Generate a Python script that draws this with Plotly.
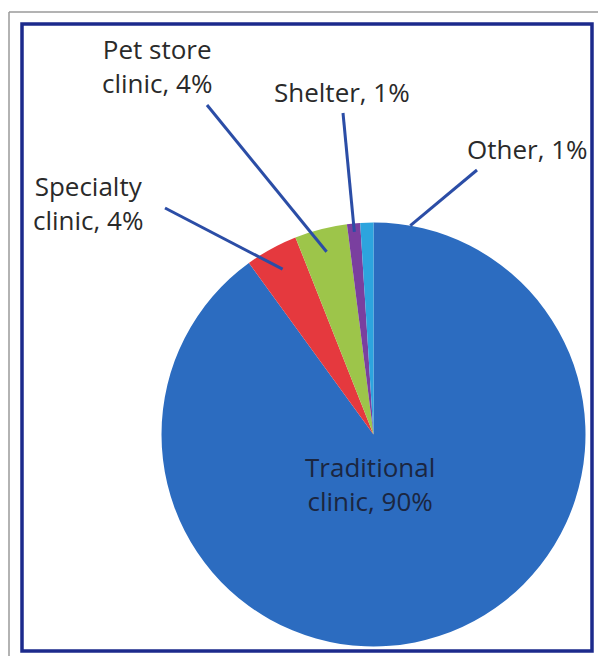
import math
import plotly.graph_objects as go

# Share of visits by clinic type (%)
categories = ["Traditional clinic", "Specialty clinic", "Pet store clinic", "Shelter", "Other"]
shares = [90, 4, 4, 1, 1]
label_lines = [
    "Traditional<br>clinic, 90%",
    "Specialty<br>clinic, 4%",
    "Pet store<br>clinic, 4%",
    "Shelter, 1%",
    "Other, 1%",
]

# --- styling / layout ---
W, H = 598, 656
colors = ["#2C6CC0", "#E5393E", "#9DC54A", "#7A3F9F", "#2DA4DE"]
CX, CY, R = 373.5, 434.5, 212.0          # pie centre and radius in page pixels
FONT = "Open Sans"
TEXT_COLOR = "#2A2A2A"
LEADER_COLOR = "#2B4DA6"


def px(x):
    return x / W


def py(y):
    return 1 - y / H


fig = go.Figure(
    go.Pie(
        labels=categories,
        values=shares,
        sort=False,
        direction="clockwise",
        rotation=0,
        marker=dict(colors=colors, line=dict(width=0)),
        textinfo="none",
        hoverinfo="label+percent",
        showlegend=False,
        domain=dict(x=[px(CX - R), px(CX + R)], y=[py(CY + R), py(CY - R)]),
    )
)

# mid angle of each slice, clockwise from 12 o'clock
total = sum(shares)
mids = []
acc = 0.0
for v in shares:
    mids.append(360.0 * (acc + v / 2) / total)
    acc += v


def on_pie(angle_deg, frac):
    a = math.radians(angle_deg)
    return CX + R * frac * math.sin(a), CY - R * frac * math.cos(a)


# label centre (px), leader start (px), leader end as (radius fraction, angle shift)
label_pos = {
    0: (370, 484),
    1: (88, 203),
    2: (157, 66),
    3: (342, 92),
    4: (527, 149),
}
leader = {
    1: ((165, 208), 0.89, 0.0),
    2: ((207, 105), 0.89, 0.0),
    3: ((343, 113), 0.96, 0.0),
    4: ((477, 170), 1.0, 11.8),
}

annotations = []
for i, text in enumerate(label_lines):
    x, y = label_pos[i]
    annotations.append(
        dict(
            x=px(x), y=py(y), xref="paper", yref="paper",
            text=text, showarrow=False, align="center",
            xanchor="center", yanchor="middle",
            font=dict(family=FONT, size=26, weight=500,
                      color="#1B2640" if i == 0 else TEXT_COLOR),
        )
    )

shapes = []
for i, ((sx, sy), frac, shift) in leader.items():
    ex, ey = on_pie(mids[i] + shift, frac)
    shapes.append(
        dict(type="line", xref="paper", yref="paper",
             x0=px(sx), y0=py(sy), x1=px(ex), y1=py(ey),
             line=dict(color=LEADER_COLOR, width=3))
    )

# outer grey edge and navy frame
shapes.append(dict(type="line", xref="paper", yref="paper",
                   x0=px(9), y0=py(12), x1=1, y1=py(12),
                   line=dict(color="#9A9A9A", width=1.5)))
shapes.append(dict(type="line", xref="paper", yref="paper",
                   x0=px(9), y0=py(12), x1=px(9), y1=0,
                   line=dict(color="#9A9A9A", width=1.5)))
shapes.append(dict(type="rect", xref="paper", yref="paper",
                   x0=px(22), y0=py(651), x1=px(592), y1=py(24),
                   line=dict(color="#1C2A8C", width=3.5)))

fig.update_layout(
    width=W, height=H,
    margin=dict(l=0, r=0, t=0, b=0),
    paper_bgcolor="white",
    plot_bgcolor="white",
    annotations=annotations,
    shapes=shapes,
)

fig.write_html("out.html")
